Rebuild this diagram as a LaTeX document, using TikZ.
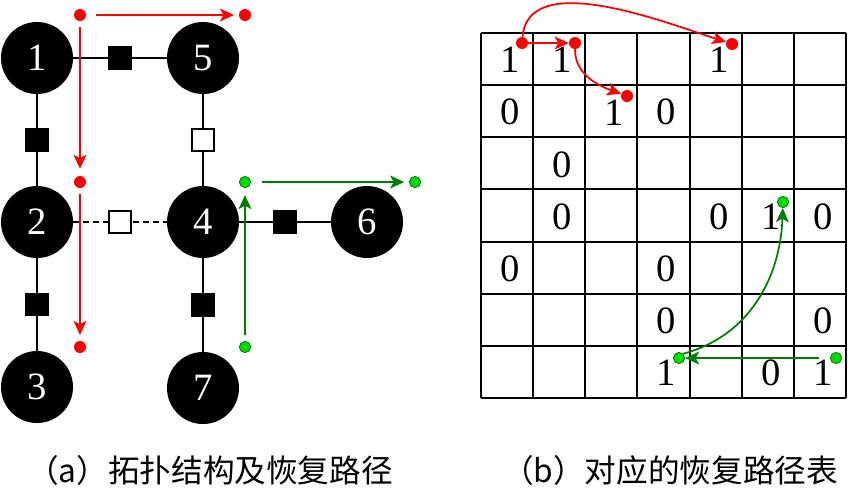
\documentclass[tikz,border=0pt]{standalone}
\usepackage{fontspec}
\setmainfont{Liberation Serif}
\newfontfamily\cjk{Noto Sans CJK SC}
\usetikzlibrary{arrows.meta, positioning, calc}
\definecolor{pathgreen}{RGB}{0,128,0}
\definecolor{dotgreen}{RGB}{0,220,0}

\begin{document}
\begin{tikzpicture}[x=0.03cm, y=-0.03cm,
    bus/.style={circle, fill=black, text=white, minimum size=2.16cm, inner sep=0pt, font=\fontsize{33}{34}\selectfont},
    sw/.style={rectangle, draw=black, fill=black, line width=1.5pt, minimum size=0.66cm, inner sep=0pt},
    swopen/.style={sw, fill=white},
    line/.style={line width=1.6pt},
    reddot/.style={circle, fill=red, minimum size=0.36cm, inner sep=0pt},
    greendot/.style={circle, draw=pathgreen, fill=dotgreen, line width=0.7pt, minimum size=0.34cm, inner sep=0pt},
    redarrow/.style={-{Stealth[length=12pt, width=11pt, inset=3pt]}, red, line width=1.5pt},
    greenarrow/.style={-{Stealth[length=12pt, width=11pt, inset=3pt]}, pathgreen, line width=1.5pt},
    cell/.style={font=\fontsize{33}{34}\selectfont, inner sep=0pt},
    gridline/.style={line width=1.7pt},
    caption/.style={font=\cjk\fontsize{27}{30}\selectfont, inner sep=0pt}
]
\useasboundingbox (0,0) rectangle (850,495);

% Buses
\node[bus] (n1) at (37, 58) {1};
\node[bus] (n5) at (203, 58) {5};
\node[bus] (n2) at (37, 222) {2};
\node[bus] (n4) at (203, 222) {4};
\node[bus] (n6) at (367, 222) {6};
\node[bus] (n3) at (37, 387) {3};
\node[bus] (n7) at (203, 388) {7};

% Lines
\draw[line] (n1) -- (n5);
\draw[line] (n1) -- (n2);
\draw[line] (n5) -- (n4);
\draw[line] (n2) -- (n3);
\draw[line] (n4) -- (n7);
\draw[line] (n4) -- (n6);
\draw[line, dash pattern=on 5pt off 3.5pt] (n2) -- (n4);

% Switches
\node[sw] (s15) at ($(n1)!0.5!(n5)$) {};
\node[sw] (s12) at ($(n1)!0.5!(n2)$) {};
\node[swopen] (s54) at ($(n5)!0.5!(n4)$) {};
\node[swopen] (s24) at ($(n2)!0.5!(n4)$) {};
\node[sw] (s46) at ($(n4)!0.5!(n6)$) {};
\node[sw] (s23) at ($(n2)!0.5!(n3)$) {};
\node[sw] (s47) at ($(n4)!0.5!(n7)$) {};

% Restoration paths
\node[reddot] (r1) at (80, 15) {};
\node[reddot] (r2) at (245, 15) {};
\node[reddot] (r3) at (80, 182) {};
\node[reddot] (r4) at (80, 347) {};
\node[greendot] (g1) at (245, 182) {};
\node[greendot] (g2) at (415, 182) {};
\node[greendot] (g3) at (245, 347) {};

\draw[redarrow, shorten <=8pt, shorten >=4pt] (r1) -- (r2);
\draw[redarrow, shorten <=5pt, shorten >=6pt] (r1) -- (r3);
\draw[redarrow, shorten <=5pt, shorten >=5pt] (r3) -- (r4);
\draw[greenarrow, shorten <=5pt, shorten >=6pt] (g3) -- (g1);
\draw[greenarrow, shorten <=9pt, shorten >=4pt] (g1) -- (g2);

% Table
\foreach \i in {0,...,7} {
  \draw[gridline] (481+52.14*\i, 33) -- (481+52.14*\i, 398);
  \draw[gridline] (481, 33+52.14*\i) -- (846, 33+52.14*\i);
}
\foreach \r/\c/\v in {1/1/1, 1/2/1, 1/5/1, 2/1/0, 2/3/1, 2/4/0, 3/2/0, 4/2/0, 4/5/0,
    4/6/1, 4/7/0, 5/1/0, 5/4/0, 6/4/0, 6/7/0, 7/4/1, 7/6/0, 7/7/1}
  \node[cell] (t\r\c) at (481+52.14*\c-23, 33+52.14*\r-25) {\v};

% Paths in the table
\node[reddot] (rd1) at (522, 43) {};
\node[reddot] (rd2) at (575, 43) {};
\node[reddot] (rd3) at (732, 44) {};
\node[reddot] (rd4) at (627, 96) {};
\node[greendot] (gd1) at (783, 202) {};
\node[greendot] (gd2) at (679, 358) {};
\node[greendot] (gd3) at (836, 358) {};

\draw[redarrow] (rd1) -- (rd2);
\draw[redarrow] (rd1) to[out=85, in=162, looseness=0.85] (rd3);
\draw[redarrow] (rd2) to[out=-90, in=160] (rd4);
\draw[greenarrow, shorten <=9pt] (gd3) -- (gd2);
\draw[greenarrow] (gd2.45) to[out=15, in=-92] (gd1);

% Captions
\node[caption] (capa) at (210, 470) {（a）拓扑结构及恢复路径};
\node[caption] (capb) at (670, 470) {（b）对应的恢复路径表};
\end{tikzpicture}
\end{document}
